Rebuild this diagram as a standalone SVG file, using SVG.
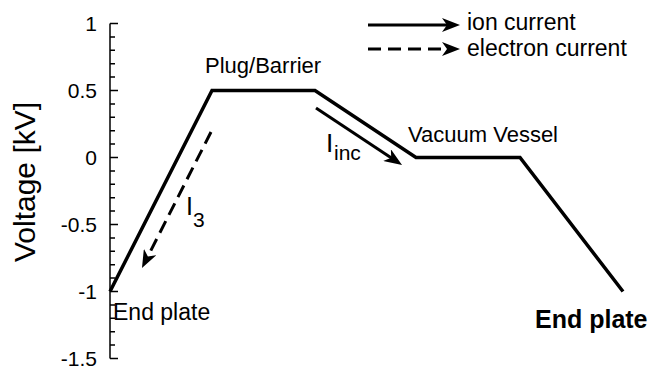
<svg xmlns="http://www.w3.org/2000/svg" width="656" height="371" viewBox="0 0 656 371">
<style>
text{font-family:"Liberation Sans",Arial,Helvetica,sans-serif;fill:#000}
.tick{font-size:21px;text-anchor:end}
.lbl{font-size:22px}
.ax{stroke:#000;stroke-width:1.5;fill:none}
.curve{stroke:#000;stroke-width:3.5;fill:none;stroke-linejoin:miter}
.arr{stroke:#000;stroke-width:3;fill:none}
.dash{stroke-dasharray:13 7}
</style>
<defs>
<marker id="head" viewBox="0 0 18 14" refX="8" refY="7" markerWidth="18" markerHeight="14" markerUnits="userSpaceOnUse" orient="auto">
<path d="M0,0 L18,7 L0,14 L5,7 Z" fill="#000"/>
</marker>
</defs>
<rect width="656" height="371" fill="#fff"/>
<g id="axis">
<path class="ax" d="M110,23.5 V358.5"/>
<path class="ax" d="M110,23.5 H118 M110,90.5 H118 M110,157.5 H118 M110,224.5 H118 M110,291.5 H118 M110,358.5 H118"/>
<path class="ax" d="M110,36.9 H115 M110,50.3 H115 M110,63.7 H115 M110,77.1 H115 M110,103.9 H115 M110,117.3 H115 M110,130.7 H115 M110,144.1 H115 M110,170.9 H115 M110,184.3 H115 M110,197.7 H115 M110,211.1 H115 M110,237.9 H115 M110,251.3 H115 M110,264.7 H115 M110,278.1 H115 M110,304.9 H115 M110,318.3 H115 M110,331.7 H115 M110,345.1 H115"/>
<text class="tick" x="97" y="30.5">1</text>
<text class="tick" x="97" y="97.5">0.5</text>
<text class="tick" x="97" y="164.5">0</text>
<text class="tick" x="97" y="231.5">-0.5</text>
<text class="tick" x="97" y="298.5">-1</text>
<text class="tick" x="97" y="365.5">-1.5</text>
<text x="35" y="182" font-size="30" text-anchor="middle" transform="rotate(-90 35 182)">Voltage [kV]</text>
</g>
<g id="potential">
<path class="curve" d="M110,291.5 L212,90.5 L315,90.5 L416,157.5 L520,157.5 L623,291.5"/>
</g>
<g id="labels">
<text class="lbl" x="205" y="73">Plug/Barrier</text>
<text class="lbl" x="408" y="142">Vacuum Vessel</text>
<text x="113" y="320" font-size="23">End plate</text>
<text x="535" y="328" font-size="25" font-weight="bold">End plate</text>
<text x="186" y="215" font-size="25">I</text>
<text x="193" y="227" font-size="21">3</text>
<text x="326" y="152" font-size="26">I</text>
<text x="334" y="160" font-size="21">inc</text>
</g>
<g id="connectors">
<path class="arr dash" d="M211,132 L146.5,259.1" marker-end="url(#head)"/>
<path class="arr" d="M316,108 L393.7,159.5" marker-end="url(#head)"/>
</g>
<g id="legend">
<path class="arr" d="M368,25 H450" marker-end="url(#head)"/>
<path class="arr dash" d="M368,49 H450" marker-end="url(#head)"/>
<text x="467" y="30" font-size="23">ion current</text>
<text x="467" y="56" font-size="23">electron current</text>
</g>
</svg>
